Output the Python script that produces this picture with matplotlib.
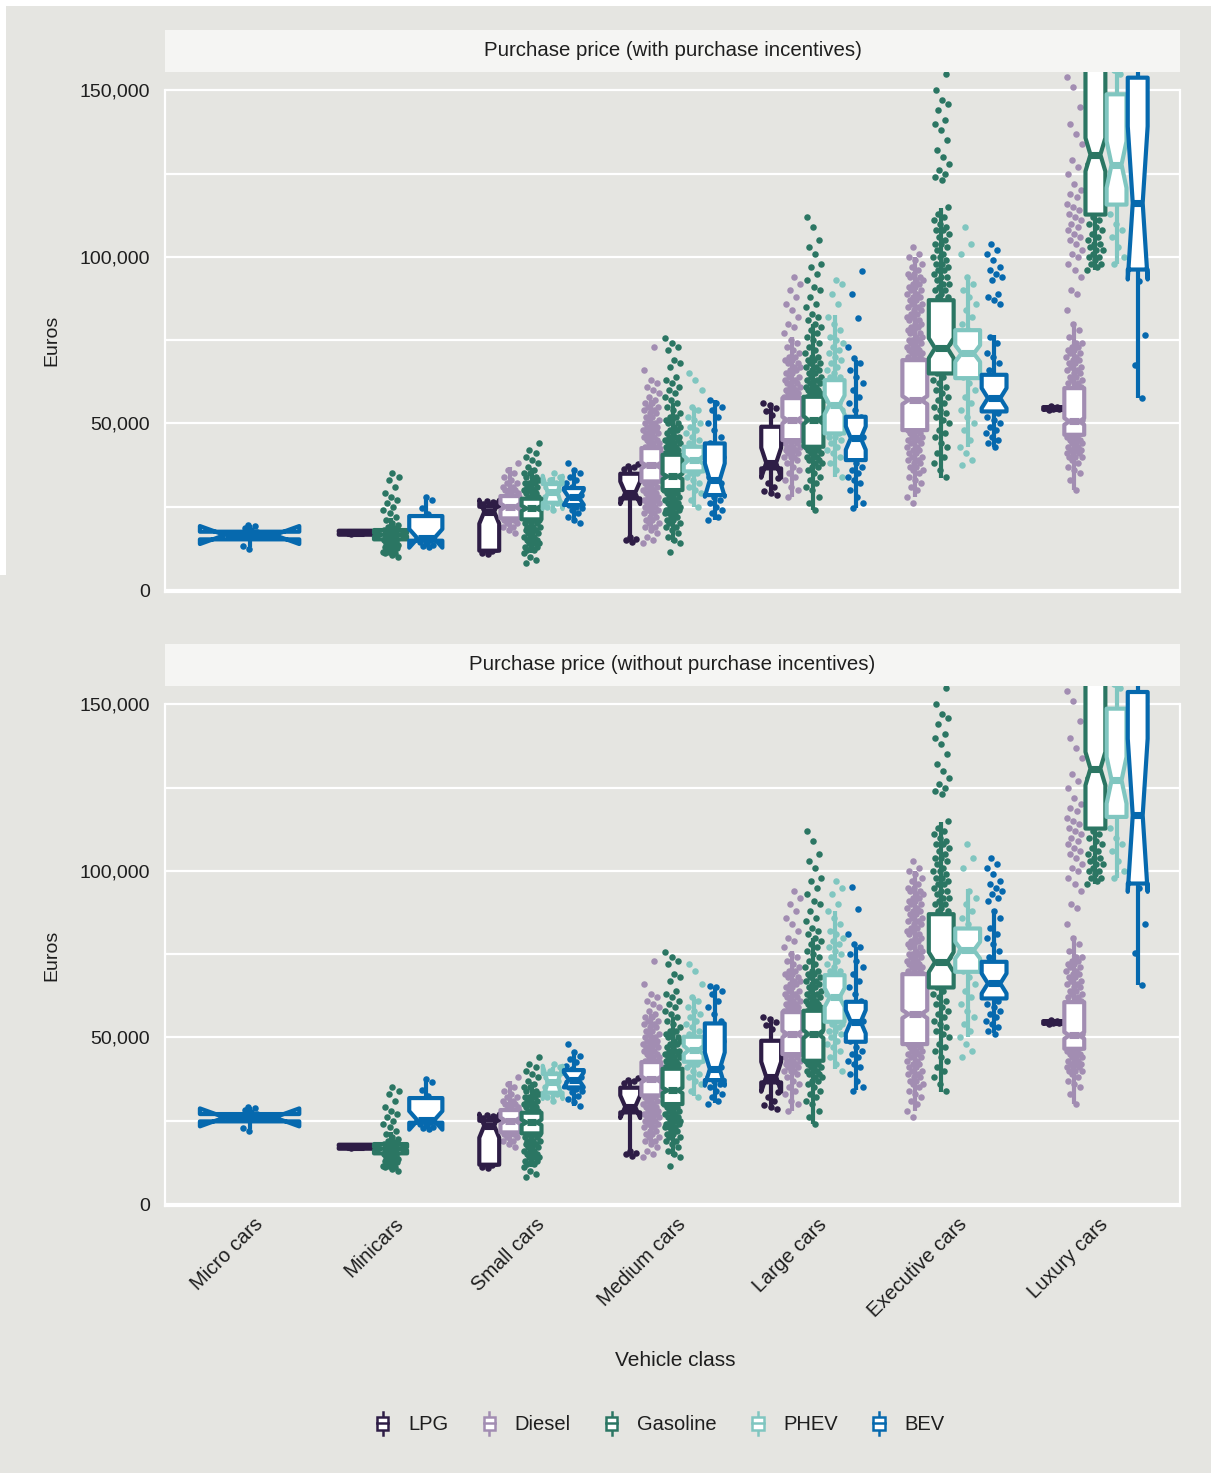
"""
Purchase prices of new cars by vehicle class and powertrain, with and
without the purchase incentives for plug-in hybrids and battery electrics.

Notched box plots (white fill) over the jittered individual models.
All prices are kept in thousand euros and labelled in euros on the axis.
"""

import numpy as np
import matplotlib
matplotlib.use("Agg")
import matplotlib.pyplot as plt
from matplotlib.patches import Polygon, Rectangle, Patch
from matplotlib.lines import Line2D
from matplotlib.legend_handler import HandlerBase
from matplotlib.ticker import FuncFormatter
from matplotlib.transforms import ScaledTranslation

plt.rcParams["font.family"] = ["Liberation Sans", "DejaVu Sans"]

CLASSES = ["Micro cars", "Minicars", "Small cars", "Medium cars",
           "Large cars", "Executive cars", "Luxury cars"]
FUELS = ["LPG", "Diesel", "Gasoline", "PHEV", "BEV"]
COLORS = ["#2e1d46", "#a28db2", "#2b7663", "#80c6c0", "#0669ae"]
PANEL_TITLES = ["Purchase price (with purchase incentives)",
                "Purchase price (without purchase incentives)"]

# Box statistics per vehicle class (k EUR), None where no such cars exist:
# (lower whisker, Q1, median, Q3, upper whisker, notch half-width)
LPG_BOX = [None,
           (16.5, 16.6, 17.2, 17.8, 17.9, 0.3),
           (11.0, 11.8, 23.5, 25.0, 26.5, 3.6),
           (14.5, 27.5, 29.2, 34.9, 37.2, 3.4),
           (28.5, 36.5, 38.2, 49.0, 56.0, 4.5),
           None,
           (53.8, 54.2, 54.5, 54.9, 55.3, 0.4)]
DIESEL_BOX = [None, None,
              (17.2, 21.5, 25.0, 28.2, 37.0, 1.0),
              (18.0, 32.6, 37.4, 42.6, 57.0, 0.9),
              (28.0, 45.0, 51.0, 57.6, 76.0, 1.0),
              (28.0, 48.0, 57.0, 69.0, 100.0, 1.2),
              (30.0, 46.6, 50.6, 60.6, 80.6, 1.0)]
GASOLINE_BOX = [None,
                (11.0, 15.2, 16.6, 18.0, 21.5, 0.5),
                (11.0, 21.2, 24.5, 27.4, 36.5, 0.8),
                (14.5, 30.0, 34.1, 40.6, 56.0, 0.8),
                (24.0, 43.0, 51.0, 58.0, 80.0, 1.2),
                (33.6, 65.0, 72.6, 87.0, 114.8, 3.0),
                (96.0, 112.7, 130.7, 157.5, 190.0, 5.0)]
PHEV_BOX_WITH = [None, None,
                 (24.0, 26.2, 29.3, 31.8, 34.0, 5.0),
                 (25.0, 35.6, 39.0, 43.0, 55.0, 1.3),
                 (34.0, 47.0, 55.6, 63.0, 82.6, 2.8),
                 (43.0, 63.6, 71.0, 78.0, 94.0, 2.5),
                 (98.0, 115.7, 127.7, 148.8, 175.0, 7.0)]
PHEV_BOX_WITHOUT = [None, None,
                    (31.2, 33.4, 36.5, 39.0, 41.2, 5.0),
                    (32.5, 42.7, 46.2, 50.2, 62.0, 1.3),
                    (40.5, 54.7, 62.0, 68.7, 88.0, 2.8),
                    (50.2, 69.7, 76.2, 82.7, 94.7, 2.5),
                    (98.0, 116.2, 127.2, 148.7, 175.0, 7.0)]
BEV_BOX_WITH = [(13.0, 15.2, 16.5, 17.5, 19.5, 2.7),
                (13.0, 14.8, 15.5, 22.2, 28.0, 2.8),
                (20.0, 25.5, 27.8, 30.6, 36.0, 2.2),
                (21.0, 28.5, 33.0, 44.0, 57.0, 5.0),
                (24.5, 39.0, 45.6, 52.0, 69.0, 3.5),
                (43.0, 53.6, 57.6, 64.6, 76.6, 3.0),
                (57.6, 96.2, 116.2, 153.8, 190.0, 23.0)]
BEV_BOX_WITHOUT = [(22.5, 24.8, 26.0, 27.0, 29.0, 2.7),
                   (22.6, 24.4, 25.1, 31.8, 37.4, 2.8),
                   (29.5, 35.0, 37.3, 40.2, 45.5, 2.2),
                   (30.2, 37.2, 40.5, 54.2, 65.2, 5.0),
                   (34.2, 48.7, 54.7, 60.7, 77.2, 3.5),
                   (51.2, 61.7, 66.2, 72.7, 88.7, 3.0),
                   (65.7, 96.2, 116.7, 153.7, 190.0, 23.0)]

# Individual models (k EUR) per vehicle class
LPG_PTS = [[],
           [16.9, 17.0, 17.1, 17.2, 17.2, 17.3, 17.4, 17.5, 17.1, 17.3, 17.0, 17.4],
           [10.9, 11.2, 11.6, 12.0, 12.4, 25.3, 25.9, 26.3, 26.8, 26.1],
           [14.5, 14.9, 15.3, 15.8, 36.4, 36.9, 37.3, 37.8],
           [28.5, 29.0, 29.7, 30.8, 32.0, 33.5, 52.6, 53.8, 54.6, 55.4, 56.0],
           [],
           [53.9, 54.2, 54.4, 54.6, 54.8, 55.1]]
DIESEL_PTS = [[], [],
              [17, 18, 19, 19, 20, 20, 21, 21, 21, 22, 22, 22, 23, 23, 23, 24, 24, 24,
               25, 25, 25, 26, 26, 26, 27, 27, 27, 28, 28, 28, 29, 29, 29, 30, 30, 30,
               31, 31, 32, 32, 33, 34, 35, 36, 38],
              [14, 15, 16, 17, 18, 19, 19, 20, 20, 21, 21, 22, 22, 23, 23, 24, 24, 24,
               25, 25, 25, 26, 26, 26, 27, 27, 27, 28, 28, 28, 29, 29, 29, 30, 30, 30,
               31, 31, 31, 32, 32, 32, 33, 33, 33, 34, 34, 34, 35, 35, 35, 36, 36, 36,
               37, 37, 37, 38, 38, 38, 39, 39, 39, 40, 40, 40, 41, 41, 41, 42, 42, 42,
               43, 43, 43, 44, 44, 44, 45, 45, 45, 46, 46, 46, 47, 47, 47, 48, 48, 48,
               49, 49, 49, 50, 50, 50, 51, 51, 52, 52, 53, 53, 54, 54, 55, 55, 56, 56,
               57, 58, 59, 60, 61, 62, 63, 66, 73],
              [28, 30, 31, 33, 34, 35, 36, 37, 38, 39, 40, 40, 40, 41, 41, 41, 42, 42, 42,
               43, 43, 43, 44, 44, 44, 45, 45, 45, 46, 46, 46, 47, 47, 47, 48, 48, 48,
               49, 49, 49, 50, 50, 50, 51, 51, 51, 52, 52, 52, 53, 53, 53, 54, 54, 54,
               55, 55, 55, 56, 56, 56, 57, 57, 57, 58, 58, 58, 59, 59, 59, 60, 60, 60,
               61, 61, 61, 62, 62, 62, 63, 63, 64, 64, 65, 65, 66, 66, 67, 67, 68, 68,
               69, 69, 70, 70, 71, 72, 73, 74, 75, 77, 79, 80, 82, 84, 86, 88, 90, 92, 94],
              [26, 28, 30, 31, 32, 33, 34, 35, 36, 36, 37, 37, 38, 38, 39, 39, 40, 40,
               41, 41, 42, 42, 43, 43, 44, 44, 45, 45, 45, 46, 46, 46, 47, 47, 47, 48,
               48, 48, 49, 49, 49, 50, 50, 50, 51, 51, 51, 52, 52, 52, 53, 53, 53, 54,
               54, 54, 55, 55, 55, 56, 56, 56, 57, 57, 57, 58, 58, 58, 59, 59, 59, 60,
               60, 60, 61, 61, 61, 62, 62, 62, 63, 63, 63, 64, 64, 64, 65, 65, 65, 66,
               66, 66, 67, 67, 67, 68, 68, 68, 69, 69, 69, 70, 70, 70, 71, 71, 71, 72,
               72, 72, 73, 73, 73, 74, 74, 74, 75, 75, 75, 76, 76, 77, 77, 78, 78, 79,
               79, 80, 80, 81, 81, 82, 82, 83, 83, 84, 84, 85, 85, 86, 86, 87, 87, 88,
               88, 89, 89, 90, 90, 91, 91, 92, 92, 93, 93, 94, 94, 95, 95, 96, 97, 98,
               99, 100, 101, 103],
              [30, 33, 35, 36, 37, 38, 39, 40, 40, 40, 41, 41, 41, 42, 42, 42, 43, 43,
               43, 44, 44, 44, 45, 45, 45, 46, 46, 46, 47, 47, 47, 48, 48, 48, 49, 49,
               49, 50, 50, 50, 51, 51, 51, 52, 52, 52, 53, 53, 53, 54, 54, 54, 55, 55,
               55, 56, 56, 56, 57, 57, 57, 58, 58, 58, 59, 59, 59, 60, 60, 60, 61, 61,
               62, 62, 63, 63, 64, 64, 65, 65, 66, 66, 67, 67, 68, 68, 69, 69, 70, 70,
               71, 71, 72, 72, 73, 73, 74, 74, 76, 78, 80, 84, 89, 90, 94, 96, 98, 100,
               101, 102, 104, 105, 106, 107, 108, 109, 110, 111, 112, 113, 114, 115,
               116, 118, 119, 120, 122, 125, 127, 129, 134, 137, 140, 145, 151, 154]]
GASOLINE_PTS = [[],
                [10, 10.5, 11, 11, 11.5, 11.5, 12, 12, 12.5, 12.5, 13, 13, 13.5, 13.5,
                 14, 14, 14.5, 14.5, 15, 15, 15.5, 15.5, 16, 16, 16.5, 16.5, 17, 17,
                 17.5, 17.5, 18, 18, 18.5, 19, 19.5, 20, 21, 22, 23, 24, 25, 26, 27, 28,
                 29, 31, 33, 34, 35],
                [8, 9, 10, 11, 12, 12, 13, 13, 13, 14, 14, 14, 15, 15, 15, 16, 16, 16,
                 17, 17, 17, 18, 18, 18, 19, 19, 19, 20, 20, 20, 21, 21, 21, 22, 22, 22,
                 23, 23, 23, 24, 24, 24, 25, 25, 25, 26, 26, 26, 27, 27, 27, 28, 28, 28,
                 29, 29, 29, 30, 30, 30, 31, 31, 31, 32, 32, 32, 33, 33, 34, 34, 35, 35,
                 36, 37, 38, 39, 40, 41, 42, 44],
                [11.5, 14, 15, 16, 17, 18, 19, 19, 20, 20, 21, 21, 22, 22, 23, 23, 23,
                 24, 24, 24, 25, 25, 25, 26, 26, 26, 27, 27, 27, 28, 28, 28, 29, 29, 29,
                 30, 30, 30, 31, 31, 31, 32, 32, 32, 33, 33, 33, 34, 34, 34, 35, 35, 35,
                 36, 36, 36, 37, 37, 37, 38, 38, 38, 39, 39, 39, 40, 40, 40, 41, 41, 41,
                 42, 42, 42, 43, 43, 43, 44, 44, 44, 45, 45, 45, 46, 46, 46, 47, 47, 48,
                 48, 49, 49, 50, 50, 51, 51, 52, 52, 53, 54, 55, 56, 57, 58, 59, 60, 61,
                 62, 63, 64, 67, 68, 69, 72, 73, 74, 75.7],
                [24, 26, 28, 30, 31, 32, 33, 34, 35, 36, 37, 37, 38, 38, 39, 39, 40, 40,
                 40, 41, 41, 41, 42, 42, 42, 43, 43, 43, 44, 44, 44, 45, 45, 45, 46, 46,
                 46, 47, 47, 47, 48, 48, 48, 49, 49, 49, 50, 50, 50, 51, 51, 51, 52, 52,
                 52, 53, 53, 53, 54, 54, 54, 55, 55, 55, 56, 56, 56, 57, 57, 57, 58, 58,
                 58, 59, 59, 59, 60, 60, 60, 61, 61, 61, 62, 62, 62, 63, 63, 64, 64, 65,
                 65, 66, 66, 67, 67, 68, 68, 69, 69, 70, 70, 71, 72, 73, 74, 75, 76, 77,
                 78, 79, 80, 81, 82, 83, 85, 86, 88, 90, 91, 93, 95, 97, 98, 101, 103,
                 105, 109, 112],
                [34, 36, 38, 40, 41, 43, 44, 46, 47, 48, 50, 51, 52, 53, 54, 55, 56, 57,
                 58, 59, 60, 61, 62, 63, 64, 65, 66, 67, 68, 70, 72, 74, 76, 78, 80, 82,
                 84, 86, 88, 88, 89, 90, 90, 91, 92, 92, 93, 94, 94, 95, 96, 96, 97, 98,
                 98, 99, 100, 100, 101, 102, 103, 104, 104, 105, 106, 107, 108, 108, 109,
                 110, 111, 112, 113, 115, 123, 124, 125, 126, 128, 130, 132, 135, 138,
                 140, 141, 144, 146, 147, 150, 155],
                [96, 97, 98, 98, 99, 100, 100, 101, 102, 102, 103, 104, 104, 105, 106,
                 107, 108, 109, 110, 111, 112, 114, 116, 118, 120, 124, 128, 132, 136,
                 140, 145, 150, 155]]
PHEV_PTS_WITH = [[], [],
                 [24, 25, 26, 27, 28, 29, 30, 30, 31, 31, 32, 33, 34, 35],
                 [25, 27, 29, 30, 31, 32, 33, 34, 35, 35, 36, 36, 37, 37, 38, 38, 39, 39,
                  40, 40, 41, 41, 42, 42, 43, 44, 45, 46, 47, 48, 49, 50, 51, 52, 54, 55,
                  60, 63, 65],
                 [34, 36, 38, 40, 41, 42, 43, 44, 45, 46, 46, 47, 48, 48, 49, 50, 50, 51,
                  52, 52, 53, 54, 54, 55, 56, 56, 57, 58, 58, 59, 60, 60, 61, 62, 62, 63,
                  64, 64, 65, 66, 67, 68, 69, 70, 71, 72, 73, 74, 75, 76, 78, 80, 82, 86,
                  89, 92, 93],
                 [37.5, 39, 41, 43, 45, 48, 50, 52, 54, 56, 58, 60, 62, 64, 66, 68, 70, 72,
                  74, 76, 78, 80, 82, 84, 86, 88, 90, 92, 94, 101, 104, 109],
                 [98, 100, 103, 106, 108, 110, 113, 155, 156]]
PHEV_PTS_WITHOUT = [[], [],
                    [31, 32, 33, 34, 35, 36, 37, 37, 38, 38, 39, 40, 41, 42],
                    [32, 34, 36, 37, 38, 39, 40, 41, 42, 42, 43, 43, 44, 44, 45, 45, 46, 46,
                     47, 47, 48, 48, 49, 49, 50, 51, 52, 53, 54, 55, 56, 57, 58, 59, 61,
                     62, 66, 70, 72],
                    [40, 42, 44, 46, 47, 48, 49, 50, 51, 52, 52, 53, 54, 54, 55, 56, 56,
                     57, 58, 58, 59, 60, 60, 61, 62, 62, 63, 64, 64, 65, 66, 66, 67, 68,
                     68, 69, 70, 70, 71, 72, 73, 74, 75, 76, 77, 78, 79, 80, 81, 82, 84,
                     86, 88, 90, 93, 95, 97],
                    [44, 46, 48, 50, 52, 54, 56, 58, 60, 62, 64, 66, 68, 70, 72, 74, 76, 78,
                     80, 82, 84, 86, 88, 90, 92, 94, 101, 104, 108],
                    [98, 100, 103, 106, 108, 110, 113, 155, 156]]
BEV_PTS_WITH = [[12.3, 13.2, 16.5, 17.0, 17.5, 18.0, 18.6, 19.2, 19.5],
                [13.0, 13.3, 13.6, 14.0, 14.5, 15.0, 15.5, 16.0, 22.8, 24.7, 27.0, 28.0],
                [20, 21, 22, 23, 24, 24.5, 25, 25.5, 26, 26.5, 27, 27.5, 28, 28.5, 29, 29.5,
                 30, 31, 32, 33, 34, 35, 36, 38],
                [21, 22, 23, 24, 25, 26, 27, 28, 29, 30, 31, 32, 33, 34, 36, 38, 40, 42, 44,
                 46, 48, 50, 52, 54, 55, 56, 57],
                [24.5, 26, 28, 30, 32, 33, 34, 35, 36, 37, 38, 40, 42, 44, 46, 48, 50, 52,
                 54, 56, 58, 60, 62, 64, 66, 68, 69.6, 73, 81.7, 89, 95.7],
                [43, 44, 45, 46, 47, 48, 49, 50, 51, 52, 53, 60, 62, 64, 66, 68, 70, 71, 74,
                 76, 86, 87, 88, 89, 93, 94, 95, 96, 97, 99, 101, 102, 104],
                [57.6, 67.6, 76.6, 92.7]]
BEV_PTS_WITHOUT = [[21.8, 22.7, 26.0, 26.5, 27.0, 27.5, 28.1, 28.7, 29.0],
                   [22.6, 22.9, 23.2, 23.6, 24.1, 24.6, 25.1, 25.6, 32.4, 34.3, 36.6, 37.4],
                   [29.5, 30.5, 31.5, 32.5, 33.5, 34, 34.5, 35, 35.5, 36, 36.5, 37, 37.5, 38,
                    38.5, 39, 39.5, 40.5, 41.5, 42.5, 43.5, 44.5, 45.5, 48],
                   [30, 31, 32, 33, 34, 35, 36, 37, 38, 39, 40, 41, 42, 43, 45, 47, 49, 51,
                    53, 55, 57, 59, 61, 63, 64, 65, 65.5],
                   [34, 35, 37, 39, 41, 42, 43, 44, 45, 46, 47, 49, 51, 53, 55, 57, 59, 61,
                    63, 65, 67, 69, 71, 73, 75, 77, 78, 81.2, 88.7, 95.2],
                   [51, 52, 53, 54, 55, 56, 57, 58, 59, 60, 61, 68, 70, 72, 74, 76, 78, 80,
                    81, 83, 86, 88, 91, 92, 93, 94, 95, 96, 97, 99, 101, 102, 104],
                   [65.7, 75.2, 84.2, 94.8]]

BG = "#e5e5e1"
STRIP_BG = "#f5f5f3"
TEXT = "#1e1e1e"
LW = 3.0
W, H = 1211, 1473


def px_rect(x0, y0, x1, y1):
    """Pixel box (top-left origin) -> figure-fraction rect."""
    return [x0 / W, 1 - y1 / H, (x1 - x0) / W, (y1 - y0) / H]


def draw_box(ax, x, w, st, color):
    lo, q1, med, q3, hi, nh = st
    ax.plot([x, x], [q3, hi], color=color, lw=LW, solid_capstyle="butt", zorder=3)
    ax.plot([x, x], [lo, q1], color=color, lw=LW, solid_capstyle="butt", zorder=3)
    l, r = x - w / 2, x + w / 2
    verts = [(l, q1), (l, med - nh), (l + w / 4, med), (l, med + nh), (l, q3),
             (r, q3), (r, med + nh), (r - w / 4, med), (r, med - nh), (r, q1)]
    ax.add_patch(Polygon(verts, closed=True, facecolor="white", edgecolor=color,
                         lw=LW, joinstyle="round", zorder=4))
    ax.plot([l + w / 4, r - w / 4], [med, med], color=color, lw=LW * 1.7,
            solid_capstyle="butt", zorder=5)


def draw_panel(ax, boxes, points):
    for ci in range(len(CLASSES)):
        here = [fi for fi in range(len(FUELS)) if boxes[fi][ci] is not None]
        n = len(here)
        slot = 0.75 / n
        for j, fi in enumerate(here):
            x = ci + (j - (n - 1) / 2) * slot
            vals = np.asarray(points[fi][ci], dtype=float)
            k = np.arange(len(vals))
            offs = ((k * 0.6180339887 + 0.37 * fi + 0.21 * ci) % 1.0 - 0.5) * 0.115
            ax.scatter(x + offs, vals, s=22, color=COLORS[fi], linewidths=0, zorder=2)
            draw_box(ax, x, slot * 0.94, boxes[fi][ci], COLORS[fi])


def style_axes(ax):
    ax.set_facecolor(BG)
    ax.set_xlim(-0.6, 6.6)
    ax.set_ylim(-0.6, 155.5)
    ax.set_yticks([0, 50, 100, 150])
    ax.set_yticks([25, 75, 125], minor=True)
    ax.yaxis.set_major_formatter(FuncFormatter(lambda v, _: f"{v * 1000:,.0f}"))
    ax.grid(axis="y", which="both", color="white", lw=1.6, zorder=0)
    ax.grid(axis="x", visible=False)
    ax.set_axisbelow(True)
    ax.tick_params(axis="both", which="both", length=0, labelsize=14,
                   labelcolor=TEXT, pad=11)
    ax.spines["top"].set_visible(False)
    for side in ("left", "right", "bottom"):
        ax.spines[side].set_color("white")
        ax.spines[side].set_linewidth(1.6)
    ax.spines["left"].set_bounds(-0.6, 150)
    ax.spines["right"].set_bounds(-0.6, 150)


def add_strip(fig, rect, title):
    sax = fig.add_axes(rect)
    sax.set_facecolor(STRIP_BG)
    sax.set_xticks([])
    sax.set_yticks([])
    for s in sax.spines.values():
        s.set_visible(False)
    sax.text(0.5, 0.5, title, ha="center", va="center", fontsize=14.7, color=TEXT,
             transform=sax.transAxes)


class BoxKey(HandlerBase):
    """Small box-and-whisker glyph for the legend."""

    def create_artists(self, legend, orig_handle, xdescent, ydescent, width,
                       height, fontsize, trans):
        c = orig_handle.get_edgecolor()
        cx = width / 2 - xdescent
        cy = height / 2 - ydescent
        rect = Rectangle((cx - 4, cy - 5), 8, 10, facecolor="white", edgecolor=c,
                         lw=1.8, transform=trans)
        mid = Line2D([cx - 4, cx + 4], [cy, cy], color=c, lw=1.8, transform=trans)
        top = Line2D([cx, cx], [cy + 5, cy + 8], color=c, lw=1.8, transform=trans)
        bot = Line2D([cx, cx], [cy - 8, cy - 5], color=c, lw=1.8, transform=trans)
        return [top, bot, rect, mid]


fig = plt.figure(figsize=(W / 100, H / 100), dpi=100, facecolor=BG)
fig.patches.append(Rectangle((0, 1 - 6 / H), 1, 6 / H, transform=fig.transFigure,
                             facecolor="white", edgecolor="none"))
fig.patches.append(Rectangle((0, 1 - 575 / H), 6 / W, 575 / H, transform=fig.transFigure,
                             facecolor="white", edgecolor="none"))

panels = [
    ([LPG_BOX, DIESEL_BOX, GASOLINE_BOX, PHEV_BOX_WITH, BEV_BOX_WITH],
     [LPG_PTS, DIESEL_PTS, GASOLINE_PTS, PHEV_PTS_WITH, BEV_PTS_WITH]),
    ([LPG_BOX, DIESEL_BOX, GASOLINE_BOX, PHEV_BOX_WITHOUT, BEV_BOX_WITHOUT],
     [LPG_PTS, DIESEL_PTS, GASOLINE_PTS, PHEV_PTS_WITHOUT, BEV_PTS_WITHOUT]),
]
ax_rects = [px_rect(165, 72, 1180, 592), px_rect(165, 686, 1180, 1206)]
strip_rects = [px_rect(165, 30, 1180, 72), px_rect(165, 644, 1180, 686)]
ylabel_y = [340, 955]

for i, (boxes, pts) in enumerate(panels):
    ax = fig.add_axes(ax_rects[i])
    style_axes(ax)
    draw_panel(ax, boxes, pts)
    ax.set_xticks(range(len(CLASSES)))
    if i == 0:
        ax.set_xticklabels([])
    else:
        ax.set_xticklabels(CLASSES, rotation=45, ha="right", va="center",
                           rotation_mode="anchor", fontsize=14.5)
        shift = ScaledTranslation(10 / 100, 0, fig.dpi_scale_trans)
        for lab in ax.get_xticklabels():
            lab.set_transform(lab.get_transform() + shift)
    add_strip(fig, strip_rects[i], PANEL_TITLES[i])
    fig.text(52 / W, 1 - ylabel_y[i] / H, "Euros", rotation=90, ha="center",
             va="center", fontsize=14, color=TEXT)

fig.text(675 / W, 1 - 1361 / H, "Vehicle class", ha="center", va="center",
         fontsize=15, color=TEXT)

handles = [Patch(facecolor="white", edgecolor=c) for c in COLORS]
fig.legend(handles, FUELS, handler_map={Patch: BoxKey()}, loc="center",
           bbox_to_anchor=(659 / W, 1 - 1425 / H), ncol=5, frameon=False,
           fontsize=14.5, handlelength=0.9, handletextpad=0.8, columnspacing=1.6,
           labelcolor=TEXT)

fig.savefig("out.png", dpi=100, facecolor=BG)
